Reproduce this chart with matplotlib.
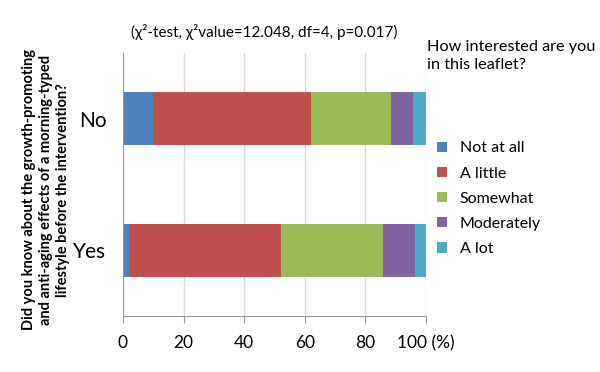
import matplotlib.pyplot as plt
import numpy as np

plt.rcParams['font.family'] = ['Lato', 'DejaVu Sans']

# data
groups = ['No', 'Yes']
levels = ['Not at all', 'A little', 'Somewhat', 'Moderately', 'A lot']
not_at_all = [10.0, 2.1]
a_little = [52.2, 50.2]
somewhat = [26.2, 33.4]
moderately = [7.2, 10.7]
a_lot = [4.4, 3.6]
colors = ['#4F81BD', '#C0504D', '#9BBB59', '#8064A2', '#4BACC6']
xticks = [0, 20, 40, 60, 80, 100]
xticklabels = ['0', '20', '40', '60', '80', '100 (%)']

fig = plt.figure(figsize=(6, 3.72), dpi=100)
ax = fig.add_axes([0.205, 0.1505, 0.505, 0.707])

y = np.arange(len(groups))
left = np.zeros(len(groups))
for vals, lab, c in zip([not_at_all, a_little, somewhat, moderately, a_lot], levels, colors):
    ax.barh(y, vals, left=left, height=0.4, color=c, label=lab)
    left += np.array(vals)

ax.set_ylim(1.5, -0.5)
ax.set_xlim(0, 100)
ax.set_yticks(y)
ax.set_yticklabels(groups, fontsize=15)
ax.set_xticks(xticks)
ax.set_xticklabels(xticklabels, fontsize=12.5)
ax.tick_params(axis='y', length=0, pad=12)
ax.tick_params(axis='x', length=5, color='#999999', pad=9)
ax.grid(axis='x', color='#d9d9d9', linewidth=1)
ax.set_axisbelow(True)
for s in ['top', 'right']:
    ax.spines[s].set_visible(False)
ax.spines['left'].set_color('#999999')
ax.spines['bottom'].set_color('#999999')

fig.text(0.44, 0.915, '(χ²-test, χ²value=12.048, df=4, p=0.017)', fontsize=11, ha='center', va='center')
fig.text(0.712, 0.85, 'How interested are you\nin this leaflet?', fontsize=11.7, ha='left', va='center', linespacing=1.4)

fig.text(0.077, 0.49, 'Did you know about the growth-promoting\nand anti-aging effects of a morning-typed\nlifestyle before the intervention?',
         rotation=90, fontsize=10.5, fontweight='bold', ha='center', va='center', linespacing=1.25)

ax.legend(loc='center left', bbox_to_anchor=(0.99, 0.446), frameon=False, fontsize=11.5,
          handlelength=0.6, handleheight=0.6, labelspacing=0.7)

fig.savefig('out.png', dpi=100)
